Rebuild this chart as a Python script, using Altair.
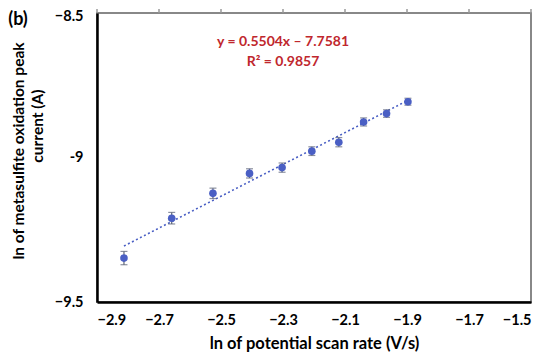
import altair as alt
import pandas as pd

# ln of scan rate (V/s)
x_vals = [-2.813, -2.659, -2.526, -2.408, -2.303, -2.207, -2.120, -2.040, -1.966, -1.897]
# ln of peak current (A)
y_vals = [-9.348, -9.210, -9.124, -9.055, -9.035, -8.978, -8.947, -8.877, -8.848, -8.807]
err_vals = [0.023, 0.020, 0.018, 0.016, 0.016, 0.015, 0.016, 0.014, 0.013, 0.012]
x_ticks = [-2.9, -2.7, -2.5, -2.3, -2.1, -1.9, -1.7, -1.5]
y_ticks = [-9.5, -9.0, -8.5]
slope = 0.5504
intercept = -7.7581
eq_lines = ["y = 0.5504x \u2013 7.7581", "R\u00b2 = 0.9857"]
y_title_lines = ["ln of metasulfite oxidation peak", "current (A)"]

df = pd.DataFrame({"x": x_vals, "y": y_vals, "e": err_vals})
df["lo"] = df["y"] - df["e"]
df["hi"] = df["y"] + df["e"]
trend = pd.DataFrame({"x": [x_vals[0], x_vals[-1]]})
trend["y"] = slope * trend["x"] + intercept

FONT = "Lato"
BLUE = "#4a5fc4"

xscale = alt.Scale(domain=[-2.9, -1.5], nice=False, zero=False)
yscale = alt.Scale(domain=[-9.5, -8.5], nice=False, zero=False)

x_axis = alt.Axis(
    values=x_ticks, format=".1f", title="ln of potential scan rate (V/s)",
    ticks=False, grid=False, domainColor="black", domainWidth=2.5,
    labelPadding=11, labelFont=FONT, labelFontSize=14.5, labelFontWeight="bold",
    labelColor="black", titleFont=FONT, titleFontSize=16.5, titleFontWeight="bold",
    titleColor="black", titlePadding=9)

y_axis = alt.Axis(
    values=y_ticks, labelExpr="datum.value == -9 ? '-9' : format(datum.value, '.1f')",
    title=None,
    ticks=False, grid=False, domainColor="black", domainWidth=2.5,
    labelPadding=14, labelFont=FONT, labelFontSize=14.5, labelFontWeight="bold",
    labelColor="black", labelOffset={"expr": "datum.value == -8.5 ? 3 : 0"})

def X(field):
    return alt.X(field, type="quantitative", scale=xscale, axis=x_axis)

def Y(field):
    return alt.Y(field, type="quantitative", scale=yscale, axis=y_axis)

line = alt.Chart(trend).mark_line(color=BLUE, strokeDash=[2, 2.5], strokeWidth=1.6).encode(
    x=X("x"), y=Y("y"))

bars = alt.Chart(df).mark_errorbar(ticks=alt.MarkConfig(size=7), color="#5b6377", thickness=1.2).encode(
    x=X("x"), y=Y("lo"), y2="hi:Q")

pts = alt.Chart(df).mark_circle(size=58, color=BLUE, opacity=1).encode(
    x=X("x"), y=Y("y"))

top_ticks = alt.Chart(pd.DataFrame({"x": x_ticks})).mark_rule(color="#999999", strokeWidth=1.5).encode(
    x=X("x"), y=alt.value(-4), y2=alt.value(0))

eq = alt.Chart(pd.DataFrame({"t": eq_lines, "x": [-2.3, -2.3], "y": [-8.600, -8.670]})).mark_text(
    font=FONT, fontSize=14, fontWeight="bold", color="#c0272d", align="center", baseline="middle"
).encode(x=X("x"), y=Y("y"), text="t:N")

ytitle1 = alt.Chart(pd.DataFrame({"t": [y_title_lines[0]]})).mark_text(
    font=FONT, fontSize=15.5, fontWeight="bold", color="black", align="center",
    baseline="middle", angle=270
).encode(x=alt.value(-78), y=alt.value(138), text="t:N")

ytitle2 = alt.Chart(pd.DataFrame({"t": [y_title_lines[1]]})).mark_text(
    font=FONT, fontSize=15.5, fontWeight="bold", color="black", align="center",
    baseline="middle", angle=270
).encode(x=alt.value(-59), y=alt.value(113), text="t:N")

label_b = alt.Chart(pd.DataFrame({"t": ["(b)"]})).mark_text(
    font=FONT, fontSize=18, fontWeight="bold", color="black", align="center", baseline="middle"
).encode(x=alt.value(-79), y=alt.value(7), text="t:N")

chart = alt.layer(top_ticks, line, bars, pts, eq, ytitle1, ytitle2, label_b).properties(
    width=434, height=289,
    padding={"left": 89, "top": 5, "right": 11, "bottom": 50},
    autosize=alt.AutoSizeParams(type="none"),
).configure_view(stroke="#888888", strokeWidth=2)

chart.save("out.html", embed_options={"renderer": "svg", "actions": False})
